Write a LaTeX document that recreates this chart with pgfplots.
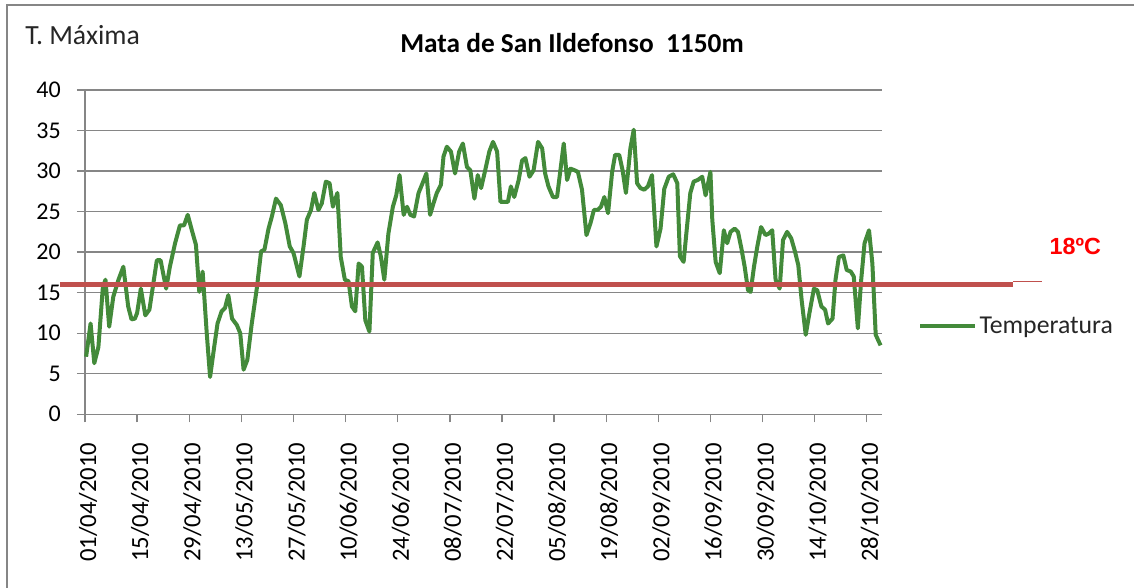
\documentclass[border=0pt]{standalone}
\usepackage{fontspec}
\setmainfont{Carlito}
\newfontfamily\arialfont{Liberation Sans}
\usepackage{pgfplots}
\pgfplotsset{compat=1.18}
\definecolor{gline}{HTML}{438A3A}
\definecolor{rline}{HTML}{C0504D}
\definecolor{axgray}{HTML}{868686}
\begin{document}
\begin{tikzpicture}
\useasboundingbox (0pt,0pt) rectangle (850.5pt,441pt);
\draw[axgray, line width=1.5pt] (5.25pt,0pt) -- (5.25pt,437.25pt) -- (850.5pt,437.25pt);
\node[anchor=west, inner sep=0pt, font=\fontsize{20.8}{24}\selectfont, text=black!85] at (18.75pt,414.75pt) {T. Máxima};
\node[inner sep=0pt, font=\bfseries\fontsize{20.5}{24}\selectfont] at (429pt,408.75pt) {Mata de San Ildefonso\ \ 1150m};
\begin{axis}[
  at={(63.75pt,130.3pt)}, anchor=south west, scale only axis,
  width=597.5pt, height=243.2pt,
  xmin=0, xmax=214, ymin=0, ymax=40,
  ytick={0,5,...,40},
  xtick={0,14,...,210},
  xticklabels={01/04/2010,15/04/2010,29/04/2010,13/05/2010,27/05/2010,10/06/2010,24/06/2010,08/07/2010,22/07/2010,05/08/2010,19/08/2010,02/09/2010,16/09/2010,30/09/2010,14/10/2010,28/10/2010},
  ymajorgrids, grid style={axgray, line width=1pt},
  axis x line*=bottom, axis y line*=left,
  axis line style={axgray, line width=1pt, -},
  tick style={axgray, line width=1pt},
  major tick length=6pt, tick align=outside,
  clip=false,
  /pgf/number format/assume math mode=true,
  ticklabel style={font=\fontsize{18}{20}\selectfont, text=black},
  yticklabel style={anchor=east, inner sep=0pt, xshift=-12pt},
  xticklabel style={rotate=90, anchor=east, inner sep=0pt, xshift=-15pt, yshift=-2.25pt, font=\fontsize{18.5}{20}\selectfont},
  legend style={at={(1.0456,0.2723)}, anchor=west, draw=none, fill=none, inner sep=0pt,
    font=\fontsize{19.3}{21}\selectfont, text=black!85},
  legend image code/.code={\draw[#1] (0pt,0pt) -- (41pt,0pt);},
]
\addplot[gline, line width=3pt, line join=round] coordinates {
(0.3,7.1) (1.5,11.2) (2.5,6.3) (3.6,8.3) (4.8,15.7) (5.5,16.6) (6.5,10.8) (7.6,14.5) (9.0,16.6) (10.3,18.2)
(11.6,13.3) (12.5,11.7) (13.4,11.8) (14.0,12.5) (15.0,15.5) (16.2,12.2) (17.3,12.9) (19.3,19.0) (20.3,19.0)
(21.8,15.5) (22.8,18.2) (24.2,21.1) (25.5,23.3) (26.6,23.3) (27.6,24.6) (28.7,22.7) (29.8,20.9) (30.7,15.1)
(31.6,17.6) (32.7,10.0) (33.6,4.6) (34.7,8.3) (35.6,11.2) (36.7,12.7) (37.6,13.1) (38.5,14.7) (39.5,11.8)
(40.8,11.0) (41.7,10.0) (42.6,5.5) (43.6,6.7) (44.8,11.2) (46.2,15.7) (47.3,20.1) (48.2,20.3) (49.3,22.9)
(50.2,24.4) (51.3,26.6) (52.6,25.8) (53.8,23.6) (55.0,20.7) (56.0,19.9) (57.6,17.0) (58.7,20.7) (59.6,24.0)
(60.7,25.2) (61.6,27.3) (62.7,25.2) (63.6,26.0) (64.7,28.7) (65.7,28.5) (66.6,25.6) (67.8,27.3) (68.7,19.4)
(69.8,16.6) (70.8,16.4) (71.7,13.3) (72.6,12.7) (73.5,18.6) (74.4,18.2) (75.3,11.6) (76.4,10.2) (77.3,19.9)
(78.6,21.2) (79.5,19.4) (80.4,16.6) (81.5,22.3) (82.7,25.6) (83.6,27.0) (84.5,29.5) (85.6,24.6) (86.5,25.6)
(87.4,24.6) (88.4,24.4) (89.6,27.3) (90.5,28.3) (91.7,29.7) (92.7,24.6) (93.6,26.0) (94.5,27.3) (95.6,28.3)
(96.3,31.8) (97.2,33.0) (98.3,32.4) (99.4,29.7) (100.5,32.4) (101.5,33.4) (102.6,30.5) (103.5,30.1)
(104.6,26.6) (105.5,29.5) (106.4,27.9) (107.5,30.1) (108.6,32.4) (109.6,33.6) (110.7,32.4) (111.6,26.2)
(112.6,26.2) (113.6,26.2) (114.4,28.1) (115.3,26.8) (116.5,28.9) (117.4,31.3) (118.3,31.6) (119.4,29.3)
(120.5,30.1) (121.7,33.6) (122.8,32.8) (123.6,29.7) (124.5,28.1) (125.7,26.8) (126.8,26.8) (127.7,30.1)
(128.6,33.4) (129.5,28.9) (130.4,30.3) (131.5,30.1) (132.4,29.9) (133.5,27.7) (134.7,22.1) (135.8,23.6)
(136.7,25.2) (137.7,25.2) (138.6,25.6) (139.5,26.8) (140.5,24.8) (141.6,29.9) (142.4,32.0) (143.5,32.0)
(144.4,30.1) (145.3,27.3) (146.5,32.8) (147.4,35.1) (148.3,28.5) (149.2,27.9) (150.2,27.7) (151.2,28.1)
(152.3,29.5) (153.5,20.7) (154.6,22.9) (155.6,27.8) (156.8,29.3) (158.0,29.6) (159.1,28.5) (159.8,19.5)
(160.8,18.8) (161.7,23.1) (162.6,27.3) (163.5,28.7) (164.6,28.9) (165.8,29.3) (166.7,27.0) (168.0,29.9)
(168.5,24.0) (169.4,18.8) (170.5,17.4) (171.6,22.7) (172.5,21.1) (173.4,22.5) (174.5,22.9) (175.4,22.5)
(176.3,20.5) (177.2,18.2) (178.1,15.3) (178.8,15.1) (179.7,18.2) (180.6,20.7) (181.6,23.1) (182.8,22.1)
(183.7,22.3) (184.6,22.7) (185.5,16.6) (186.6,15.5) (187.5,21.5) (188.6,22.5) (189.7,21.7) (190.7,20.1)
(191.6,18.4) (192.5,14.1) (193.6,9.8) (194.6,12.5) (195.8,15.5) (196.7,15.3) (197.8,13.3) (198.8,12.9)
(199.6,11.2) (200.8,11.8) (201.6,16.6) (202.5,19.4) (203.7,19.6) (204.6,17.8) (205.7,17.6) (206.5,17.0)
(207.6,10.6) (208.5,16.6) (209.4,21.1) (210.6,22.7) (211.5,18.6) (212.4,9.8) (213.7,8.5)
};
\addlegendentry{Temperatura}
\draw[rline, line width=3.75pt] (axis cs:-6.7,16.05) -- (axis cs:249.3,16.05);
\draw[rline, line width=1pt] (axis cs:249.3,16.35) -- (axis cs:257.1,16.35);
\node[text=red, font=\arialfont\bfseries\fontsize{17.5}{19}\selectfont] at (axis cs:266,20.65) {18ºC};
\end{axis}
\end{tikzpicture}
\end{document}
